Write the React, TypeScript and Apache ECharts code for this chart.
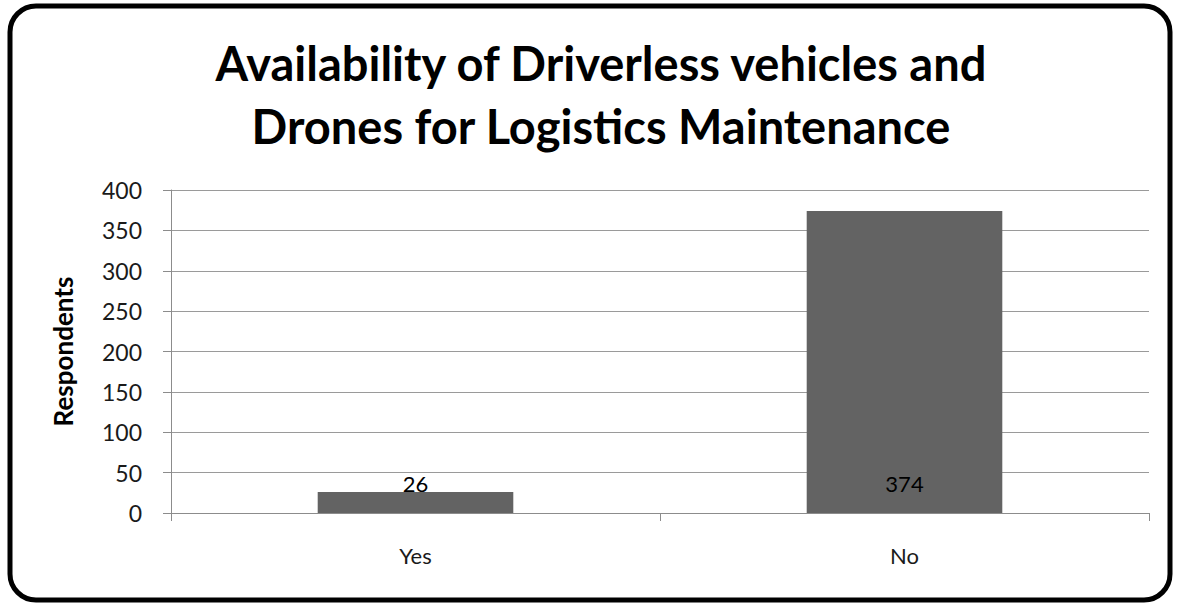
import React, { useEffect, useRef } from "react";
import * as echarts from "echarts";

const categories = ["Yes", "No"];
const respondents = [26, 374];
const yTicks = { min: 0, max: 400, interval: 50 };
const titleText = "Availability of Driverless vehicles and\nDrones for Logistics Maintenance";
const yAxisName = "Respondents";

const FONT = "Lato, 'Open Sans', sans-serif";

export default function App() {
  const ref = useRef<HTMLDivElement>(null);
  useEffect(() => {
    if (!ref.current) return;
    const chart = echarts.init(ref.current, undefined, { renderer: "svg" });
    chart.setOption({
      animation: false,
      backgroundColor: "#ffffff",
      title: {
        text: titleText,
        left: 596,
        textAlign: "center",
        top: 26,
        textStyle: {
          fontFamily: FONT,
          fontWeight: "bold",
          fontSize: 47,
          lineHeight: 63,
          color: "#000",
        },
      },
      graphic: [
        {
          type: "rect",
          shape: { x: 10, y: 6, width: 1160, height: 594, r: 26 },
          style: { fill: "none", stroke: "#000", lineWidth: 5 },
          z: 100,
        },
      ],
      grid: { left: 171, right: 28, top: 190, bottom: 91, containLabel: false },
      xAxis: {
        type: "category",
        data: categories,
        boundaryGap: true,
        axisLine: { show: true, lineStyle: { color: "#8c8c8c", width: 1 } },
        axisTick: { show: true, length: 8, alignWithLabel: false, lineStyle: { color: "#8c8c8c" } },
        axisLabel: { fontFamily: FONT, fontSize: 22, color: "#1a1a1a", margin: 31 },
      },
      yAxis: {
        type: "value",
        min: yTicks.min,
        max: yTicks.max,
        interval: yTicks.interval,
        name: yAxisName,
        nameLocation: "middle",
        nameGap: 95,
        nameTextStyle: { fontFamily: FONT, fontWeight: "bold", fontSize: 26, color: "#000" },
        axisLine: { show: true, lineStyle: { color: "#8c8c8c", width: 1 } },
        axisTick: { show: true, length: 8, lineStyle: { color: "#8c8c8c" } },
        axisLabel: { fontFamily: FONT, fontSize: 23, color: "#1a1a1a", margin: 29 },
        splitLine: { show: true, lineStyle: { color: "#9a9a9a", width: 1 } },
      },
      series: [
        {
          type: "bar",
          data: respondents,
          barWidth: "40%",
          itemStyle: { color: "#636363" },
          label: {
            show: true,
            position: "insideBottom",
            distance: 19,
            fontFamily: FONT,
            fontSize: 22,
            color: "#000",
          },
        },
      ],
    });
    return () => chart.dispose();
  }, []);
  return (
    <div
      ref={ref}
      style={{ position: "fixed", left: 0, top: 0, width: 1177, height: 604 }}
    />
  );
}
